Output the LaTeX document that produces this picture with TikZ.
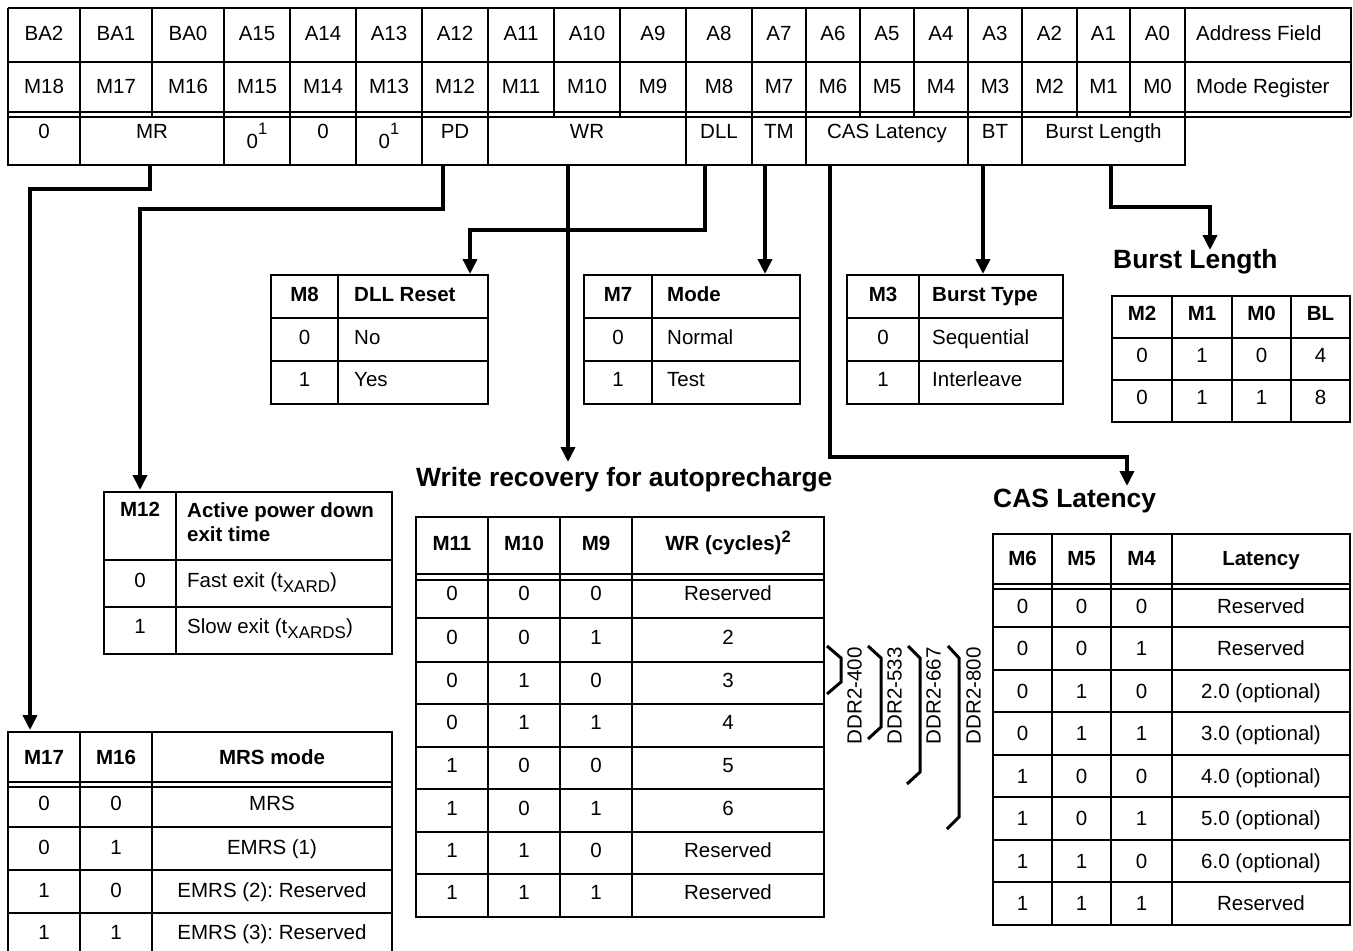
\documentclass[tikz,border=0pt]{standalone}
\usepackage{fontspec}
\setmainfont{Liberation Sans}
\usetikzlibrary{arrows.meta}
\frenchspacing
\newcommand\nfs{\fontsize{20.5}{24}\selectfont}
\newcommand\tfs{\fontsize{26.4}{30}\selectfont\bfseries}
\newcommand\supx[1]{\raisebox{14pt}{\fontsize{16.5}{16.5}\selectfont #1}}
\newcommand\supb[1]{\raisebox{8pt}{\fontsize{16.5}{16.5}\selectfont\bfseries #1}}
\newcommand\subx[1]{\raisebox{-5pt}{\fontsize{17}{17}\selectfont #1}}
\tikzset{
  tbl/.style={line width=2pt},
  conn/.style={line width=3.6pt, -{Triangle[width=14pt,length=15pt]}},
  brk/.style={line width=3pt},
  cell/.style={font=\nfs, inner sep=0pt, text height=15pt, text depth=4pt},
  hcell/.style={cell, font=\nfs\bfseries},
  lcell/.style={cell, anchor=west},
  lhcell/.style={hcell, anchor=west},
  ttl/.style={font=\tfs, inner sep=0pt, anchor=west},
  ddr/.style={cell, rotate=90, anchor=east},
}
\begin{document}
\frenchspacing
\begin{tikzpicture}[x=1pt,y=-1pt]
\useasboundingbox (0,0) rectangle (1353,951);

% ---------------- top register table ----------------
\draw[tbl] (8,8) -- (1351,8) -- (1351,117);
\draw[tbl] (8,62) -- (1351,62);
\draw[tbl] (8,112) -- (1351,112);
\draw[tbl] (8,117) -- (1351,117);
\draw[tbl] (8,8) -- (8,165) -- (1185,165) -- (1185,112);
\foreach \x in {80,152,224,290,356,422,488,554,620,686,752,806,860,914,968,1022,1077,1130,1185}
  \draw[tbl] (\x,8) -- (\x,117);
\foreach \x in {80,224,290,356,422,488,686,752,806,968,1022}
  \draw[tbl] (\x,112) -- (\x,165);

\foreach \l/\r/\t [count=\i] in {8/80/BA2,80/152/BA1,152/224/BA0,224/290/A15,290/356/A14,356/422/A13,422/488/A12,488/554/A11,554/620/A10,620/686/A9,686/752/A8,752/806/A7,806/860/A6,860/914/A5,914/968/A4,968/1022/A3,1022/1077/A2,1077/1130/A1,1130/1185/A0}
  \node[cell] (af\i) at ({(\l+\r)/2},35) {\t};
\foreach \l/\r/\t [count=\i] in {8/80/M18,80/152/M17,152/224/M16,224/290/M15,290/356/M14,356/422/M13,422/488/M12,488/554/M11,554/620/M10,620/686/M9,686/752/M8,752/806/M7,806/860/M6,860/914/M5,914/968/M4,968/1022/M3,1022/1077/M2,1077/1130/M1,1130/1185/M0}
  \node[cell] (mr\i) at ({(\l+\r)/2},88) {\t};
\node[lcell] (afl) at (1196,35) {Address Field};
\node[lcell] (mrl) at (1196,88) {Mode Register};

\node[cell] (f0) at (44,133) {0};
\node[cell] (fmr) at (152,133) {MR};
\node[cell] (fz1) at (257,143) {0\supx{1}};
\node[cell] (fz2) at (323,133) {0};
\node[cell] (fz3) at (389,143) {0\supx{1}};
\node[cell] (fpd) at (455,133) {PD};
\node[cell] (fwr) at (587,133) {WR};
\node[cell] (fdll) at (719,133) {DLL};
\node[cell] (ftm) at (779,133) {TM};
\node[cell] (fcas) at (887,133) {CAS Latency};
\node[cell] (fbt) at (995,133) {BT};
\node[cell] (fbl) at (1103.5,133) {Burst Length};

% ---------------- DLL table ----------------
\draw[tbl] (271,275) rectangle (488,404);
\draw[tbl] (271,318) -- (488,318);
\draw[tbl] (271,361) -- (488,361);
\draw[tbl] (338,275) -- (338,404);
\node[hcell] (d1) at (304.5,296) {M8};
\node[lhcell] (d2) at (354,296) {DLL Reset};
\node[cell] (d3) at (304.5,339) {0};
\node[lcell] (d4) at (354,339) {No};
\node[cell] (d5) at (304.5,381) {1};
\node[lcell] (d6) at (354,381) {Yes};

% ---------------- M7 table ----------------
\draw[tbl] (584,275) rectangle (800,404);
\draw[tbl] (584,318) -- (800,318);
\draw[tbl] (584,361) -- (800,361);
\draw[tbl] (652,275) -- (652,404);
\node[hcell] (t1) at (618,296) {M7};
\node[lhcell] (t2) at (667,296) {Mode};
\node[cell] (t3) at (618,339) {0};
\node[lcell] (t4) at (667,339) {Normal};
\node[cell] (t5) at (618,381) {1};
\node[lcell] (t6) at (667,381) {Test};

% ---------------- M3 table ----------------
\draw[tbl] (847,275) rectangle (1063,404);
\draw[tbl] (847,318) -- (1063,318);
\draw[tbl] (847,361) -- (1063,361);
\draw[tbl] (919,275) -- (919,404);
\node[hcell] (b1) at (883,296) {M3};
\node[lhcell] (b2) at (932,296) {Burst Type};
\node[cell] (b3) at (883,339) {0};
\node[lcell] (b4) at (932,339) {Sequential};
\node[cell] (b5) at (883,381) {1};
\node[lcell] (b6) at (932,381) {Interleave};

% ---------------- Burst length ----------------
\node[ttl] (blttl) at (1113,262) {Burst Length};
\draw[tbl] (1112,296) rectangle (1350,422);
\draw[tbl] (1112,338) -- (1350,338);
\draw[tbl] (1112,380) -- (1350,380);
\foreach \x in {1172,1232,1291} \draw[tbl] (\x,296) -- (\x,422);
\node[hcell] (l1) at (1142,315) {M2};
\node[hcell] (l2) at (1202,315) {M1};
\node[hcell] (l3) at (1261.5,315) {M0};
\node[hcell] (l4) at (1320.5,315) {BL};
\node[cell] (l5) at (1142,357) {0};
\node[cell] (l6) at (1202,357) {1};
\node[cell] (l7) at (1261.5,357) {0};
\node[cell] (l8) at (1320.5,357) {4};
\node[cell] (l9) at (1142,399) {0};
\node[cell] (l10) at (1202,399) {1};
\node[cell] (l11) at (1261.5,399) {1};
\node[cell] (l12) at (1320.5,399) {8};

% ---------------- M12 table ----------------
\draw[tbl] (104,492) rectangle (392,654);
\draw[tbl] (104,560) -- (392,560);
\draw[tbl] (104,607) -- (392,607);
\draw[tbl] (176,492) -- (176,654);
\node[hcell] (p1) at (140,511) {M12};
\node[font=\nfs\bfseries, align=left, anchor=base west, inner sep=0pt] (p2) at (187,541) {Active power down\\exit time};
\node[cell] (p3) at (140,582) {0};
\node[lcell] (p4) at (187,582) {Fast exit (t\subx{XARD})};
\node[cell] (p5) at (140,628) {1};
\node[lcell] (p6) at (187,628) {Slow exit (t\subx{XARDS})};

% ---------------- MRS table ----------------
\draw[tbl] (8,960) -- (8,732) -- (392,732) -- (392,960);
\foreach \y in {782,787,827,870,913} \draw[tbl] (8,\y) -- (392,\y);
\foreach \x in {80,152} \draw[tbl] (\x,732) -- (\x,960);
\node[hcell] (s1) at (44,759) {M17};
\node[hcell] (s2) at (116,759) {M16};
\node[hcell] (s3) at (272,759) {MRS mode};
\foreach \y/\a/\b/\c [count=\i] in {805/0/0/MRS,849/0/1/EMRS (1),892/1/0/EMRS (2): Reserved,934/1/1/EMRS (3): Reserved}{
  \node[cell] (sa\i) at (44,\y) {\a};
  \node[cell] (sb\i) at (116,\y) {\b};
  \node[cell] (sc\i) at (272,\y) {\c};
}

% ---------------- WR table ----------------
\node[ttl] (wrttl) at (416,480) {Write recovery for autoprecharge};
\draw[tbl] (416,517) rectangle (824,917);
\draw[tbl] (416,574) -- (824,574);
\draw[tbl] (416,580) -- (824,580);
\foreach \y in {618,661.5,704,746.5,789,831.5,874} \draw[tbl] (416,\y) -- (824,\y);
\foreach \x in {488,560,632} \draw[tbl] (\x,517) -- (\x,917);
\node[hcell] (w1) at (452,545) {M11};
\node[hcell] (w2) at (524,545) {M10};
\node[hcell] (w3) at (596,545) {M9};
\node[hcell] (w4) at (728,545) {WR (cycles)\supb{2}};
\foreach \y/\a/\b/\c/\d [count=\i] in {595/0/0/0/Reserved,639/0/0/1/2,682/0/1/0/3,724/0/1/1/4,767/1/0/0/5,810/1/0/1/6,852/1/1/0/Reserved,894/1/1/1/Reserved}{
  \node[cell] (wa\i) at (452,\y) {\a};
  \node[cell] (wb\i) at (524,\y) {\b};
  \node[cell] (wc\i) at (596,\y) {\c};
  \node[cell] (wd\i) at (728,\y) {\d};
}

% ---------------- DDR brackets ----------------
\draw[brk] (827,646) -- (841,658) -- (841,682) -- (827,694);
\draw[brk] (868,646) -- (881,658) -- (881,727) -- (868,739);
\draw[brk] (908,646) -- (920,658) -- (920,772) -- (907,784);
\draw[brk] (948,646) -- (959,658) -- (959,817) -- (947,829);
\node[ddr] (ddr1) at (856,647) {DDR2-400};
\node[ddr] (ddr2) at (896,647) {DDR2-533};
\node[ddr] (ddr3) at (935,647) {DDR2-667};
\node[ddr] (ddr4) at (975,647) {DDR2-800};

% ---------------- CAS table ----------------
\node[ttl] (casttl) at (993,501) {CAS Latency};
\draw[tbl] (993,534) rectangle (1350,924.5);
\foreach \y in {584,589,627,669.5,712,754.5,797,839.5,882} \draw[tbl] (993,\y) -- (1350,\y);
\foreach \x in {1052,1111,1172} \draw[tbl] (\x,534) -- (\x,924.5);
\node[hcell] (c1) at (1022.5,560) {M6};
\node[hcell] (c2) at (1081.5,560) {M5};
\node[hcell] (c3) at (1141.5,560) {M4};
\node[hcell] (c4) at (1261,560) {Latency};
\foreach \y/\a/\b/\c/\d [count=\i] in {608/0/0/0/Reserved,650/0/0/1/Reserved,693/0/1/0/2.0 (optional),735/0/1/1/3.0 (optional),778/1/0/0/4.0 (optional),820/1/0/1/5.0 (optional),863/1/1/0/6.0 (optional),905/1/1/1/Reserved}{
  \node[cell] (ca\i) at (1022.5,\y) {\a};
  \node[cell] (cb\i) at (1081.5,\y) {\b};
  \node[cell] (cc\i) at (1141.5,\y) {\c};
  \node[cell] (cd\i) at (1261,\y) {\d};
}

% ---------------- connectors ----------------
\coordinate (mrB) at (150,165);  \coordinate (mrsT) at (30,730);
\coordinate (pdB) at (443,165);  \coordinate (m12T) at (140,490);
\coordinate (wrB) at (568,165);  \coordinate (wrT) at (568,462);
\coordinate (dllB) at (705,165); \coordinate (dllT) at (470,274);
\coordinate (tmB) at (765,165);  \coordinate (tmT) at (765,274);
\coordinate (casB) at (830,165); \coordinate (casT) at (1127,486);
\coordinate (btB) at (983,165);  \coordinate (btT) at (983,274);
\coordinate (blB) at (1111,165); \coordinate (blT) at (1210,250);

\draw[conn] (mrB) -- ++(0,24) -| (mrsT);
\draw[conn] (pdB) -- ++(0,44) -| (m12T);
\draw[conn] (wrB) -- (wrT);
\draw[conn] (dllB) -- ++(0,65) -| (dllT);
\draw[conn] (tmB) -- (tmT);
\draw[conn] (casB) -- ++(0,292) -| (casT);
\draw[conn] (btB) -- (btT);
\draw[conn] (blB) -- ++(0,42) -| (blT);
\end{tikzpicture}
\end{document}
